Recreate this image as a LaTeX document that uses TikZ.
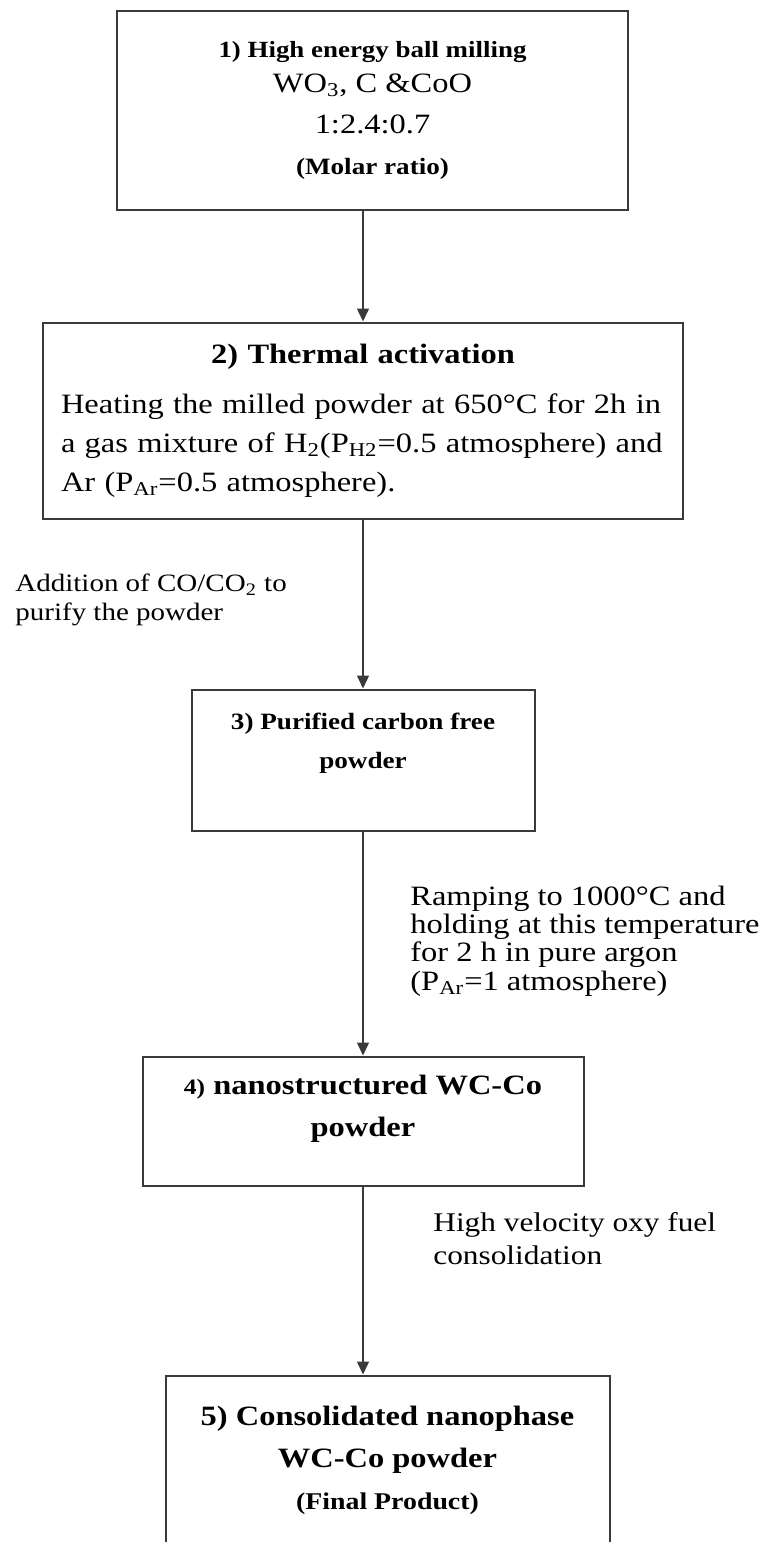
\documentclass[tikz,border=0pt]{standalone}
\usepackage{fontspec}
\setmainfont{Liberation Serif}[FakeStretch=1.16]
\usepackage{tikz}
\usetikzlibrary{positioning,arrows.meta}
\definecolor{flowLine}{HTML}{3A3A3A}
\tikzset{
    stepbox/.style={
        rectangle,
        draw=flowLine,
        line width=1pt,
        align=center,
        inner sep=3pt
    },
    % Labels beside the arrows
    sideNote/.style={anchor=west, align=left, inner sep=0pt},
    % Arrows
    flowArrow/.style={-{Triangle[length=6.5pt,width=6pt]}, line width=0.75pt, draw=flowLine}
}

\begin{document}
\begin{tikzpicture}[x=0.5pt, y=-0.5pt]
    \useasboundingbox (0,0) rectangle (764,1542);

    \node[stepbox, minimum width=255.5pt, minimum height=99.5pt, font=\fontsize{14}{20.5}\selectfont] (milling) at (372.5,110)
        {{\fontsize{11.6}{14}\selectfont\bfseries 1) High energy ball milling}\\[-3pt]
         WO\textsubscript{3}, C \&CoO\\
         1:2.4:0.7\\
         {\fontsize{11.7}{14}\selectfont\bfseries (Molar ratio)}};
    \node[stepbox, minimum width=320pt, minimum height=98pt, text width=302pt, align=left,
          font=\fontsize{14}{19.5}\selectfont, below=55.5pt of milling, xshift=-4.75pt] (activation)
        {\makebox[\linewidth]{\bfseries 2) Thermal activation}\\[5.5pt]
         Heating the milled powder at 650°C for 2h in\\
         a gas mixture of H\textsubscript{2}(P\textsubscript{H2}=0.5 atmosphere) and\\
         Ar (P\textsubscript{Ar}=0.5 atmosphere).};
    \node[stepbox, minimum width=171.5pt, minimum height=70.5pt, font=\fontsize{11.7}{19.5}\selectfont\bfseries,
          below=84.5pt of activation] (purified)
        {3) Purified carbon free\\ powder\\ \mbox{}};
    \node[stepbox, minimum width=220.5pt, minimum height=64.5pt, font=\fontsize{14}{21}\selectfont\bfseries,
          below=112pt of purified] (nanoPowder)
        {{\fontsize{11}{21}\selectfont 4)} nanostructured WC-Co\\ powder\\[-6pt]\mbox{}};
    \node[stepbox, minimum width=222pt, minimum height=85pt, font=\fontsize{14}{21}\selectfont\bfseries,
          below=94pt of nanoPowder, xshift=12.25pt] (consolidated)
        {5) Consolidated nanophase\\ WC-Co powder\\
         {\fontsize{12}{21}\selectfont (Final Product)}};

    % notes beside the arrows
    \node[sideNote, font=\fontsize{12.5}{14.5}\selectfont] (purifyNote) at (15,600)
        {Addition of CO/CO\textsubscript{2} to\\ purify the powder};
    \node[sideNote, font=\fontsize{14}{14.2}\selectfont] (rampNote) at (410,941)
        {Ramping to 1000°C and\\ holding at this temperature\\ for 2 h in pure argon\\ (P\textsubscript{Ar}=1 atmosphere)};
    \node[sideNote, font=\fontsize{13.5}{16.5}\selectfont] (hvofNote) at (433,1239)
        {High velocity oxy fuel\\ consolidation};

    \draw[flowArrow] (activation.north |- milling.south) -- (activation.north);
    \draw[flowArrow] (activation.south) -- (purified.north);
    \draw[flowArrow] (purified.south) -- (nanoPowder.north);
    \draw[flowArrow] (nanoPowder.south) -- (nanoPowder.south |- consolidated.north);
\end{tikzpicture}
\end{document}
